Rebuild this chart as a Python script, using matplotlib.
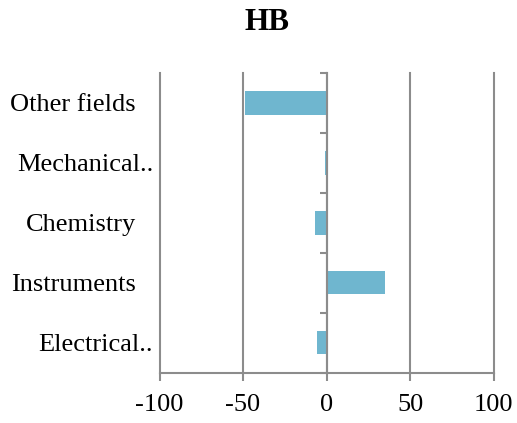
import matplotlib.pyplot as plt
from matplotlib.ticker import FixedLocator

# Data (bottom to top)
categories = ["Electrical..", "Instruments", "Chemistry", "Mechanical..", "Other fields"]
values = [-6, 35, -7, -1.2, -49]
label_right = [153, 136, 136, 153, 136]  # right edge of each category label, px

plt.rcParams['font.family'] = ['Liberation Serif', 'DejaVu Serif']

fig = plt.figure(figsize=(5.17, 4.23), dpi=100)
W, H = 517, 423
x0, x1, ytop, ybot = 159.5, 493.7, 73, 372.7
ax = fig.add_axes([x0 / W, 1 - ybot / H, (x1 - x0) / W, (ybot - ytop) / H])

grid_c = '#8c8c8c'
ax.barh(range(len(categories)), values, height=0.39, color='#6fb6cf', zorder=3)

ax.set_xlim(-100, 100)
ax.set_ylim(-0.5, len(categories) - 0.5)
ax.set_xticks([-100, -50, 0, 50, 100])
ax.set_xticklabels(['-100', '-50', '0', '50', '100'], fontsize=19)
ax.grid(axis='x', color=grid_c, linewidth=1.5, zorder=1)
for gl in ax.xaxis.get_gridlines():
    gl.set_clip_on(False)
ax.tick_params(axis='x', direction='out', length=5.5, width=1.5, color=grid_c, pad=10)

# y axis at zero with ticks at category boundaries
ax.spines['left'].set_position(('data', 0))
ax.spines['left'].set_color(grid_c)
ax.spines['left'].set_linewidth(1.5)
ax.spines['left'].set_zorder(4)
ax.yaxis.set_major_locator(FixedLocator([i - 0.5 for i in range(len(categories) + 1)]))
ax.tick_params(axis='y', direction='out', length=5, width=1.5, color=grid_c, labelleft=False)
ax.spines['bottom'].set_color(grid_c)
ax.spines['bottom'].set_linewidth(1.5)
ax.spines['top'].set_visible(False)
ax.spines['right'].set_visible(False)

for i, (cat, xr) in enumerate(zip(categories, label_right)):
    ax.text((xr - x0) / (x1 - x0), i, cat, transform=ax.get_yaxis_transform(),
            ha='right', va='center_baseline', fontsize=19)

fig.text(267 / W, 1 - 22 / H, "HB", ha='center', va='center', fontsize=22.5, fontweight='bold')

plt.savefig("out.png", dpi=100)
